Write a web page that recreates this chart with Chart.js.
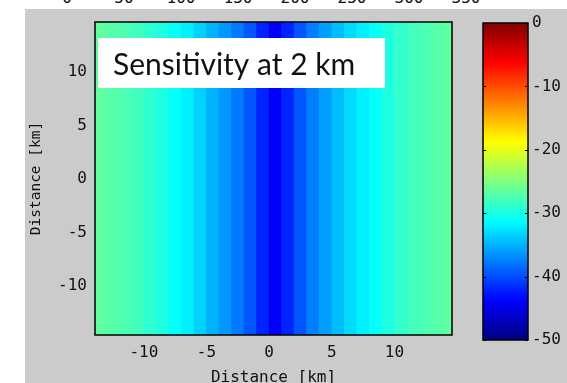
<!DOCTYPE html>
<html>
<head>
<meta charset="utf-8">
<script src="https://cdn.jsdelivr.net/npm/chart.js@4.4.0/dist/chart.umd.min.js"></script>
<style>
  html, body { margin: 0; padding: 0; background: #fff; overflow: hidden; width: 567px; height: 383px; }
  #topStrip { position: absolute; left: 0; top: 0; width: 567px; height: 9px; overflow: hidden; }
  #topStrip span { position: absolute; top: -12px; font: 16px "DejaVu Sans Mono", monospace; color: #111; transform: translateX(-50%); }
  #panel { position: absolute; left: 25px; top: 9px; width: 542px; height: 374px; background: #cbcbcb; overflow: hidden; }
  #mainChart { position: absolute; left: 0; top: 0; }
  #barChart { position: absolute; left: 455px; top: 0; }
</style>
</head>
<body>
<div id="topStrip"></div>
<div id="panel">
  <canvas id="mainChart" width="460" height="381"></canvas>
  <canvas id="barChart" width="87" height="374"></canvas>
</div>
<script>
// columns of the sensitivity map (1 km wide, centre positions in km)
const columnCenters = [-13.5, -12.5, -11.5, -10.5, -9.5, -8.5, -7.5, -6.5, -5.5, -4.5, -3.5, -2.5, -1.5, -0.5,
    0.5, 1.5, 2.5, 3.5, 4.5, 5.5, 6.5, 7.5, 8.5, 9.5, 10.5, 11.5, 12.5, 13.5, 14.5];
const sensitivity = [-26.5, -27, -27.5, -28, -29, -29.8, -31, -32, -33.5, -35, -36.3, -37.7, -39.5, -42,
    -44, -42, -39.5, -37.5, -36, -34.5, -33, -32, -31, -29.8, -28.8, -28, -27.5, -27, -26.5];
const yExtent = [-14.6, 14.7];
const xExtent = [-13.9, 14.6];
const colorRange = [-50, 0];
const topTickLabels = ['0', '50', '100', '150', '200', '250', '300', '350'];
const titleText = 'Sensitivity at 2 km';

// jet colour map
const jetStops = [
    [0, [0, 0, 128]],
    [0.125, [0, 0, 255]],
    [0.375, [0, 255, 255]],
    [0.625, [255, 255, 0]],
    [0.875, [255, 0, 0]],
    [1, [128, 0, 0]]
];

function jetColor(v) {
    let t = (v - colorRange[0]) / (colorRange[1] - colorRange[0]);
    t = Math.max(0, Math.min(1, t));
    for (let i = 1; i < jetStops.length; i++) {
        const [t1, c1] = jetStops[i];
        const [t0, c0] = jetStops[i - 1];
        if (t <= t1) {
            const f = (t - t0) / (t1 - t0);
            const c = c0.map((a, j) => Math.round(a + (c1[j] - a) * f));
            return `rgb(${c[0]},${c[1]},${c[2]})`;
        }
    }
    return 'rgb(128,0,0)';
}

// cropped tick labels at the very top
const strip = document.getElementById('topStrip');
topTickLabels.forEach((t, i) => {
    const s = document.createElement('span');
    s.textContent = t;
    s.style.left = (67 + i * 57) + 'px';
    strip.appendChild(s);
});

const monoFont = { family: '"DejaVu Sans Mono", monospace', size: 16 };

// no extra room for half tick labels at the axis ends
function fitAxis(s, prop, size) {
    s[prop] = size;
    s.paddingTop = 0;
    s.paddingBottom = 0;
    s.paddingLeft = 0;
    s.paddingRight = 0;
}

const frame = {
    id: 'frame',
    afterDatasetsDraw(chart) {
        const a = chart.chartArea;
        const c = chart.ctx;
        c.save();
        c.strokeStyle = '#000';
        c.lineWidth = 1.5;
        c.strokeRect(a.left, a.top, a.right - a.left, a.bottom - a.top);
        c.restore();
    }
};

const titleBox = {
    id: 'titleBox',
    afterDraw(chart) {
        const a = chart.chartArea;
        const c = chart.ctx;
        c.save();
        c.fillStyle = '#fff';
        c.fillRect(a.left + 3, a.top + 16, 287, 50);
        c.fillStyle = '#111';
        c.font = '30px Lato, "Open Sans", sans-serif';
        c.textBaseline = 'alphabetic';
        c.fillText(titleText, a.left + 18, a.top + 53);
        c.restore();
    }
};

new Chart(document.getElementById('mainChart'), {
    type: 'bar',
    data: {
        datasets: [{
            data: columnCenters.map((x, i) => ({ x: x, y: yExtent })),
            backgroundColor: sensitivity.map(jetColor),
            borderWidth: 0,
            barPercentage: 1.06,
            categoryPercentage: 1
        }]
    },
    options: {
        responsive: false,
        animation: false,
        devicePixelRatio: 1,
        layout: { padding: { left: 0, top: 13, right: 33, bottom: 0 } },
        plugins: { legend: { display: false }, tooltip: { enabled: false } },
        scales: {
            x: {
                type: 'linear',
                min: xExtent[0],
                max: xExtent[1],
                offset: false,
                grid: { display: false, drawTicks: false },
                border: { display: false },
                ticks: { stepSize: 5, includeBounds: false, color: '#111', font: monoFont, padding: 8, maxRotation: 0 },
                title: { display: true, text: 'Distance [km]', color: '#111', font: monoFont, padding: { top: 0, bottom: 3 } },
                afterFit: s => fitAxis(s, 'height', 55)
            },
            y: {
                type: 'linear',
                min: yExtent[0],
                max: yExtent[1],
                grid: { display: false, drawTicks: false },
                border: { display: false },
                ticks: { stepSize: 5, includeBounds: false, color: '#111', font: monoFont, padding: 8 },
                title: { display: true, text: 'Distance [km]', color: '#111', font: { family: monoFont.family, size: 14.5 }, padding: { top: 3, bottom: 0 } },
                afterFit: s => fitAxis(s, 'width', 70)
            }
        }
    },
    plugins: [frame, titleBox]
});

// colour bar
const colorTicks = {
    id: 'colorTicks',
    afterDatasetsDraw(chart) {
        const a = chart.chartArea;
        const ys = chart.scales.y;
        const c = chart.ctx;
        c.save();
        c.strokeStyle = '#000';
        c.lineWidth = 1;
        ys.ticks.forEach(t => {
            const py = Math.round(ys.getPixelForValue(t.value)) + 0.5;
            c.beginPath();
            c.moveTo(a.left, py); c.lineTo(a.left + 3, py);
            c.moveTo(a.right - 3, py); c.lineTo(a.right, py);
            c.stroke();
        });
        c.restore();
    }
};

new Chart(document.getElementById('barChart'), {
    type: 'bar',
    data: {
        labels: [''],
        datasets: [{
            data: [colorRange],
            backgroundColor: ctx => {
                const a = ctx.chart.chartArea;
                if (!a) return '#000';
                const g = ctx.chart.ctx.createLinearGradient(0, a.bottom, 0, a.top);
                jetStops.forEach(([t, c]) => g.addColorStop(t, `rgb(${c[0]},${c[1]},${c[2]})`));
                return g;
            },
            borderWidth: 0,
            barPercentage: 1,
            categoryPercentage: 1
        }]
    },
    options: {
        responsive: false,
        animation: false,
        devicePixelRatio: 1,
        layout: { padding: { left: 3, top: 14, right: 0, bottom: 43 } },
        plugins: { legend: { display: false }, tooltip: { enabled: false } },
        scales: {
            x: { display: false },
            y: {
                position: 'right',
                min: colorRange[0],
                max: colorRange[1],
                grid: { display: false, drawTicks: false },
                border: { display: false },
                ticks: { stepSize: 10, color: '#111', font: monoFont, padding: 4 },
                afterFit: s => fitAxis(s, 'width', 39)
            }
        }
    },
    plugins: [frame, colorTicks]
});
</script>
</body>
</html>
